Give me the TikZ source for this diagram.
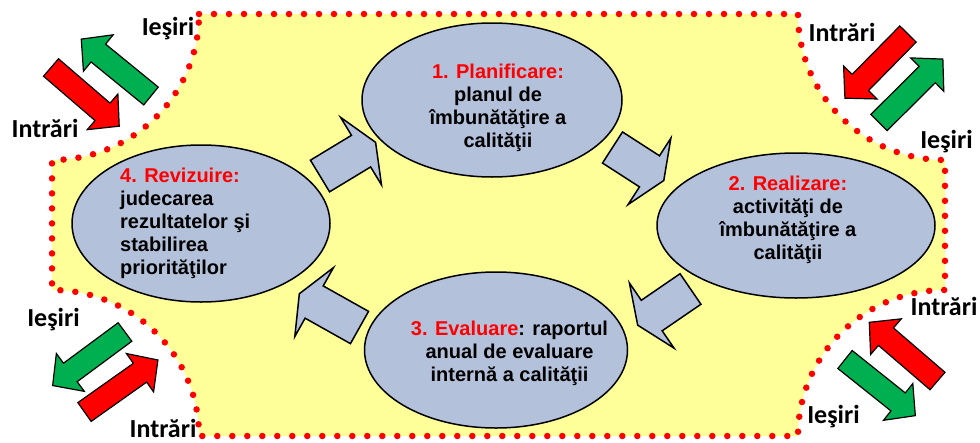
\documentclass[tikz,border=0pt]{standalone}
\usepackage{fontspec}
\setmainfont{Liberation Sans}
\newfontfamily\calib{Carlito}
\usetikzlibrary{shapes.geometric}
\definecolor{bgyellow}{RGB}{255,255,153}
\definecolor{ellblue}{RGB}{179,193,219}
\definecolor{arrgreen}{RGB}{0,176,80}
\definecolor{arrred}{RGB}{255,0,0}
\tikzset{
  ell/.style={ellipse, draw=black, line width=1.5pt, fill=ellblue, inner sep=0pt},
  blockarrow/.style={draw=black, line width=1.5pt, fill=ellblue, line join=miter},
  cornerarrow/.style={draw=black, line width=1.2pt, line join=miter},
  elltext/.style={font=\bfseries\fontsize{20}{23}\selectfont, inner sep=0pt},
  iolabel/.style={font=\calib\bfseries\fontsize{26}{28}\selectfont, inner sep=0pt, anchor=base},
  dotborder/.style={draw=red, line width=6.5pt, line cap=round, dash pattern=on 0pt off 15pt},
}
\newcommand{\blkarrow}[4]{%
  \draw[blockarrow, shift={(#1,#2)}, rotate=#3]
    (0,-18.5) -- ({#4-17},-18.5) -- ({#4-17},-39.5) -- (#4,0) --
    ({#4-17},39.5) -- ({#4-17},18.5) -- (0,18.5) -- cycle;}
\newcommand{\crnarrow}[4]{%
  \draw[cornerarrow, fill=#4, shift={(#1,#2)}, rotate=#3]
    (0,-11.5) -- (68,-11.5) -- (68,-23.5) -- (90,0) --
    (68,23.5) -- (68,11.5) -- (0,11.5) -- cycle;}
\begin{document}
\begin{tikzpicture}[x=1pt,y=-1pt]
\useasboundingbox (0,0) rectangle (980,442);
% yellow region
\path[fill=bgyellow]
  (199,14) -- (798,14) .. controls (798,94.6) and (863.8,160) .. (945,160)
  -- (945,290) .. controls (863.8,290) and (798,355.4) .. (798,436)
  -- (199,436) .. controls (199,355.4) and (133.2,290) .. (52,290)
  -- (52,160) .. controls (133.2,160) and (199,94.6) .. (199,14) -- cycle;
\draw[dotborder]
  (199,14) -- (798,14) .. controls (798,94.6) and (863.8,160) .. (945,160)
  -- (945,290) .. controls (863.8,290) and (798,355.4) .. (798,436)
  -- (199,436) .. controls (199,355.4) and (133.2,290) .. (52,290)
  -- (52,160) .. controls (133.2,160) and (199,94.6) .. (199,14) -- cycle;
% blue block arrows
\blkarrow{320}{176}{31.2}{65}
\blkarrow{612.5}{147.5}{-32.8}{61}
\blkarrow{690.5}{289}{214.4}{64}
\blkarrow{359.5}{327.5}{150.7}{69}
% ellipses
\node[ell, minimum width=260, minimum height=154] (plan) at (492,100) {};
\node[ell, minimum width=278, minimum height=145] (real) at (796,225.5) {};
\node[ell, minimum width=263, minimum height=156] (eval) at (496,350) {};
\node[ell, minimum width=258, minimum height=157] (rev) at (201,223.5) {};
% texts
\node[elltext, anchor=north, align=center] (plantxt) at (498,63.7)
  {\textcolor{red}{1. Planificare:}\\planul de\\îmbunătăţire a\\calităţii};
\node[elltext, anchor=north, align=center] (realtxt) at (788,175.7)
  {\textcolor{red}{2. Realizare:}\\activităţi de\\îmbunătăţire a\\calităţii};
\node[elltext, anchor=north, align=center] (evaltxt) at (509.5,320.7)
  {\textcolor{red}{3. Evaluare}: raportul\\anual de evaluare\\internă a calităţii};
\node[elltext, anchor=north west, align=left] (revtxt) at (120,168)
  {\textcolor{red}{4. Revizuire:}\\judecarea\\rezultatelor şi\\stabilirea\\priorităţilor};
% corner arrows
\crnarrow{151}{96}{140.8}{arrgreen}
\crnarrow{51}{67.5}{-40.7}{arrred}
\crnarrow{908}{34}{225.5}{arrred}
\crnarrow{879}{122.5}{44.8}{arrgreen}
\crnarrow{125}{332}{216.5}{arrgreen}
\crnarrow{84.5}{412}{35.3}{arrred}
\crnarrow{937.5}{381}{139.3}{arrred}
\crnarrow{845}{359.5}{-38.6}{arrgreen}
% labels
\node[iolabel] (tlout) at (168,35) {Ieşiri};
\node[iolabel] (tlin) at (45,137) {Intrări};
\node[iolabel] (trin) at (842,41) {Intrări};
\node[iolabel] (trout) at (946.5,148) {Ieşiri};
\node[iolabel] (blout) at (53.5,326) {Ieşiri};
\node[iolabel] (blin) at (163,437) {Intrări};
\node[iolabel] (brin) at (944,315) {Intrări};
\node[iolabel] (brout) at (833.5,423) {Ieşiri};
\end{tikzpicture}
\end{document}
